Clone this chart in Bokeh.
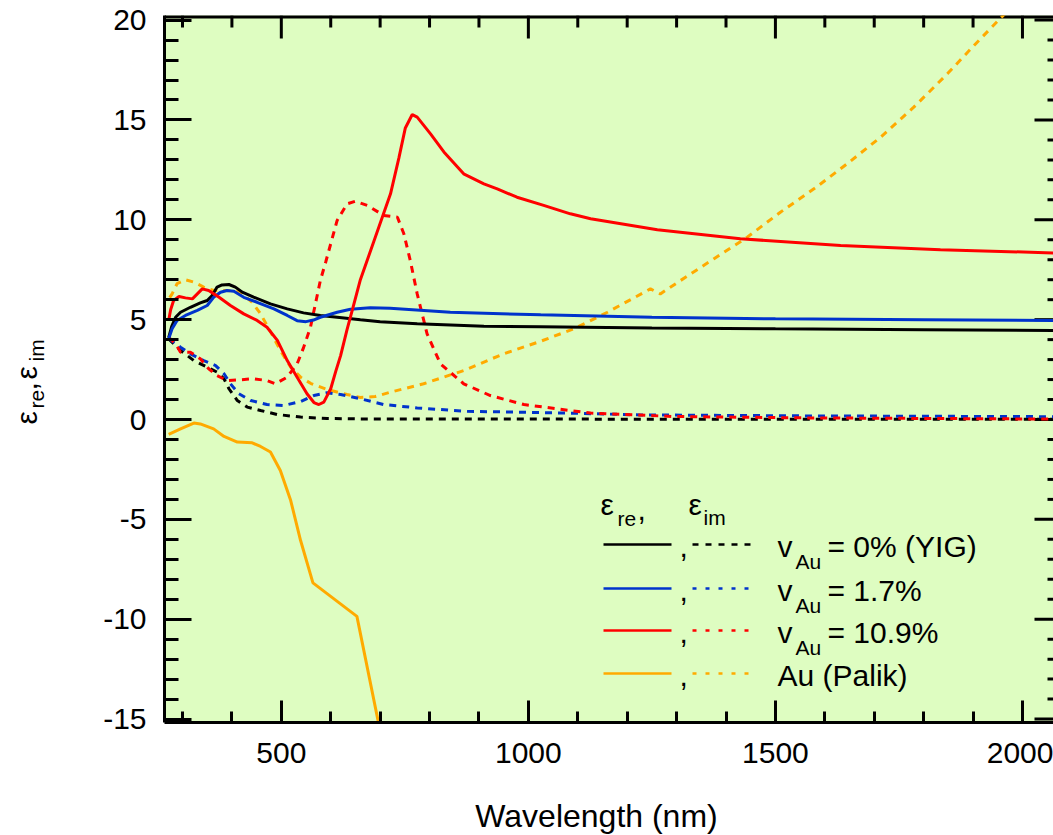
import numpy as np
from math import pi
from bokeh.plotting import figure
from bokeh.models import Range1d, FixedTicker, Label
from bokeh.layouts import row, column
from bokeh.embed import file_html
from bokeh.resources import INLINE

# ---------------- data ----------------
# v_Au = 0 % (YIG)
yig_re_wl = [272, 278, 286, 296, 316, 336, 350, 360, 370, 380, 394, 407, 421, 444, 478, 512,
             545, 579, 613, 660, 700, 775, 910, 1024, 1250, 1500, 1800, 2080]
yig_re = [4.10, 4.65, 5.12, 5.37, 5.62, 5.84, 5.96, 6.21, 6.63, 6.74, 6.76, 6.63, 6.38, 6.13, 5.79, 5.54,
          5.34, 5.21, 5.12, 4.99, 4.90, 4.79, 4.67, 4.64, 4.58, 4.54, 4.50, 4.46]
yig_im_wl = [272, 296, 323, 350, 370, 384, 394, 411, 431, 458, 492, 539, 593, 660, 1000, 2080]
yig_im = [4.04, 3.46, 2.95, 2.62, 2.37, 2.04, 1.54, 0.95, 0.62, 0.45, 0.25, 0.12, 0.05, 0.03, 0.02, 0.01]

# v_Au = 1.7 %
au17_re_wl = [272, 279, 289, 306, 330, 350, 363, 377, 390, 404, 424, 451, 485, 512, 532, 550, 565,
              579, 613, 640, 680, 720, 842, 1025, 1250, 1500, 1800, 2080]
au17_re = [4.04, 4.54, 4.96, 5.21, 5.46, 5.71, 6.12, 6.37, 6.46, 6.42, 6.12, 5.87, 5.54, 5.21, 4.95, 4.90, 4.98,
           5.12, 5.37, 5.52, 5.59, 5.57, 5.37, 5.24, 5.12, 5.04, 5.00, 4.96]
au17_im_wl = [272, 296, 316, 343, 367, 384, 397, 414, 438, 471, 505, 539, 566, 593, 620, 660, 707, 775,
              876, 977, 1085, 1227, 1564, 2080]
au17_im = [4.04, 3.62, 3.29, 2.95, 2.70, 2.29, 1.79, 1.29, 0.95, 0.75, 0.70, 0.90, 1.20, 1.34, 1.25, 1.04, 0.75, 0.58,
           0.41, 0.37, 0.32, 0.23, 0.18, 0.14]

# v_Au = 10.9 %
au109_re_wl = [272, 276, 282, 293, 306, 320, 330, 340, 353, 374, 397, 424, 451, 471, 492, 512, 532, 552, 566,
               576, 586, 600, 610, 620, 633, 645, 660, 687, 721, 738, 751, 765, 775, 802, 829, 869, 910, 937,
               977, 1031, 1085, 1126, 1261, 1429, 1632, 1834, 2080]
au109_re = [4.96, 5.50, 5.96, 6.16, 6.09, 6.04, 6.29, 6.54, 6.46, 6.12, 5.71, 5.29, 4.96, 4.62, 3.96, 2.95, 2.12,
            1.29, 0.85, 0.75, 0.87, 1.54, 2.40, 3.20, 4.50, 5.60, 7.00, 8.90, 11.30, 13.10, 14.60, 15.27, 15.14,
            14.30, 13.40, 12.30, 11.80, 11.55, 11.13, 10.72, 10.30, 10.05, 9.50, 9.05, 8.71, 8.50, 8.33]
au109_im_wl = [272, 286, 296, 316, 336, 353, 370, 390, 417, 444, 471, 488, 512, 532, 545, 559, 569, 579, 590,
               600, 613, 633, 650, 674, 707, 735, 748, 761, 775, 795, 822, 869, 923, 991, 1085, 1126, 1294,
               1564, 2080]
au109_im = [4.12, 3.79, 3.37, 3.37, 3.04, 2.54, 2.20, 1.95, 1.99, 2.04, 1.95, 1.79, 2.12, 2.79, 3.60, 4.62, 5.79,
            6.96, 7.90, 8.80, 9.97, 10.80, 10.93, 10.72, 10.22, 10.13, 9.30, 7.96, 6.29, 4.29, 2.79, 1.79, 1.20,
            0.75, 0.45, 0.32, 0.15, 0.08, 0.02]

# Au (Palik)
gold_re_wl = [272, 296, 323, 336, 363, 384, 411, 441, 458, 478, 498, 519, 539, 564, 653, 700]
gold_re = [-0.75, -0.47, -0.18, -0.22, -0.47, -0.85, -1.13, -1.17, -1.35, -1.63, -2.55, -4.06, -6.06, -8.18,
           -9.86, -15.6]
gold_im_wl = [274, 279, 289, 306, 323, 343, 363, 390, 417, 441, 458, 478, 498, 519, 539, 560, 593, 633, 660,
              690, 721, 788, 869, 950, 1025, 1092, 1160, 1247, 1267, 1308, 1375, 1443, 1510, 1578, 1645, 1713,
              1780, 1848, 1902, 1951, 2000]
gold_im = [6.10, 6.29, 6.80, 7.00, 6.88, 6.63, 6.46, 6.46, 6.38, 5.87, 5.29, 4.40, 3.46, 2.62, 2.12, 1.80, 1.50,
           1.25, 1.10, 1.15, 1.37, 1.79, 2.45, 3.29, 3.92, 4.54, 5.37, 6.54, 6.29, 6.96, 8.04, 9.13, 10.38, 11.55,
           12.80, 14.14, 15.64, 17.31, 18.73, 19.98, 21.20]

x_major_ticks = [500, 1000, 1500, 2000]
x_tick_labels = ["500", "1000", "1500", "2000"]
x_minor_ticks = list(range(300, 2101, 100))
y_major_ticks = [-15, -10, -5, 0, 5, 10, 15, 20]
y_tick_labels = ["-15", "-10", "-5", "0", "5", "10", "15", "20"]
y_minor_ticks = list(range(-15, 21))

legend_names = ["= 0% (YIG)", "= 1.7%", "= 10.9%", "Au (Palik)"]
colors = ["black", "#0033CC", "#FF0000", "#FFAA00"]
x_title = "Wavelength (nm)"

# ---------------- layout helpers (page pixel -> data) ----------------
X0_PX, X0, SX = 182.0, 300.0, 0.4941
Y0_PX, SY = 419.0, 19.97
PAGE_W, PAGE_H = 1053, 835
STRIP_W = 60          # left strip holding the y title
MAIN_H = 780          # main plot height; bottom strip holds the x title
FR_L, FR_R, FR_T, FR_B = 164, 1053, 15, 722
BASE_CORR = 0.30      # measured shift of the rendered baseline, in em


def dx(px):
    return X0 + (px - X0_PX) / SX


def dy(py):
    return (Y0_PX - py) / SY


def corr(size):
    return BASE_CORR * float(size.replace("px", ""))


FONT = "Liberation Sans"
FS = "30px"
FS_SUB = "21px"
BG = "#DEFDC1"

x0, x1 = dx(FR_L), dx(FR_R)
y0, y1 = dy(FR_B), dy(FR_T)
p = figure(width=PAGE_W - STRIP_W, height=MAIN_H, output_backend="svg", toolbar_location=None,
           x_range=Range1d(x0, x1), y_range=Range1d(y0, y1),
           min_border_left=FR_L - STRIP_W, min_border_right=0, min_border_top=FR_T,
           min_border_bottom=MAIN_H - FR_B)
p.frame_align = False
p.background_fill_color = BG
p.border_fill_color = "white"
p.outline_line_color = None
p.grid.visible = False

xt = FixedTicker(ticks=x_major_ticks, minor_ticks=x_minor_ticks)
yt = FixedTicker(ticks=y_major_ticks, minor_ticks=y_minor_ticks)


def style_axis(ax, tin, tmin):
    ax.axis_line_width = 3
    ax.axis_line_color = "black"
    ax.major_tick_line_width = 3
    ax.minor_tick_line_width = 3
    ax.major_tick_in = tin
    ax.major_tick_out = 0
    ax.minor_tick_in = tmin
    ax.minor_tick_out = 0
    ax.major_label_text_font = FONT
    ax.major_label_text_font_size = FS
    ax.major_label_text_color = "black"


bx = p.xaxis[0]
bx.ticker = xt
bx.major_label_overrides = {t: s for t, s in zip(x_major_ticks, x_tick_labels)}
style_axis(bx, 22, 11)
bx.major_label_standoff = 20

ly = p.yaxis[0]
ly.ticker = yt
ly.major_label_overrides = {t: s for t, s in zip(y_major_ticks, y_tick_labels)}
style_axis(ly, 27, 14)
ly.major_label_standoff = 18

# top edge line and inward ticks on the top and right edges (mirrors of the axes)
p.segment(x0=[x0], y0=[y1], x1=[x1], y1=[y1], line_color="black", line_width=6)
top_major, top_minor = 23 / SY, 12 / SY
tx = x_major_ticks + [t for t in x_minor_ticks if t not in x_major_ticks]
tl = [top_major] * len(x_major_ticks) + [top_minor] * (len(tx) - len(x_major_ticks))
p.segment(x0=tx, y0=[y1] * len(tx), x1=tx, y1=[y1 - l for l in tl], line_color="black", line_width=3)
right_major, right_minor = 19 / SX, 6 / SX
ty = y_major_ticks + [t for t in y_minor_ticks if t not in y_major_ticks]
rl = [right_major] * len(y_major_ticks) + [right_minor] * (len(ty) - len(y_major_ticks))
p.segment(x0=[x1] * len(ty), y0=ty, x1=[x1 - l for l in rl], y1=ty, line_color="black", line_width=3)

# ---------------- curves ----------------
DASH = "7 6"
series = [
    (gold_im_wl, gold_im, colors[3], DASH),
    (gold_re_wl, gold_re, colors[3], "solid"),
    (yig_im_wl, yig_im, colors[0], DASH),
    (au17_im_wl, au17_im, colors[1], DASH),
    (au109_im_wl, au109_im, colors[2], DASH),
    (yig_re_wl, yig_re, colors[0], "solid"),
    (au17_re_wl, au17_re, colors[1], "solid"),
    (au109_re_wl, au109_re, colors[2], "solid"),
]
for xs, ys, c, d in series:
    p.line(xs, ys, line_color=c, line_width=3, line_dash=d)


def add_label(fig, x, y, text, size=FS, align="left", angle=0.0):
    fig.add_layout(Label(x=x, y=y, text=text, text_font=FONT, text_font_size=size, angle=angle,
                         text_color="black", text_baseline="alphabetic", text_align=align))


def lab(px, py, text, size=FS, align="left"):
    add_label(p, dx(px), dy(py - corr(size)), text, size, align)


# ---------------- legend ----------------
EPS = "\u03b5"
lab(600, 513, EPS)
lab(617, 524, "re", FS_SUB)
lab(637, 518, ",")
lab(688, 513, EPS)
lab(703, 523, "im", FS_SUB)

row_line_py = [544, 588, 630, 673]
for i, (name, c) in enumerate(zip(legend_names, colors)):
    lpy = row_line_py[i]
    p.segment(x0=[dx(603)], y0=[dy(lpy)], x1=[dx(671)], y1=[dy(lpy)], line_color=c, line_width=2.5)
    p.segment(x0=[dx(692)], y0=[dy(lpy)], x1=[dx(755)], y1=[dy(lpy)], line_color=c, line_width=2.5,
              line_dash="6 7" if i == 0 else "4 9")
    base = lpy + 11
    lab(679, base, ",")
    if name.startswith("="):
        lab(777, base, "v")
        lab(795, base + 12, "Au", FS_SUB)
        lab(827, base, name)
    else:
        lab(777, base, name)


def strip(w, h, xr, yr):
    f = figure(width=w, height=h, output_backend="svg", toolbar_location=None,
               x_range=Range1d(*xr), y_range=Range1d(*yr),
               x_axis_type=None, y_axis_type=None, min_border=0)
    f.frame_align = False
    f.title.visible = False
    f.outline_line_color = None
    f.grid.visible = False
    f.background_fill_color = "white"
    f.border_fill_color = "white"
    return f


# ---------------- y title strip (left): data units = page pixels ----------------
yf = strip(STRIP_W, PAGE_H, (0, STRIP_W), (0, PAGE_H))
y_parts = [(35, 424, EPS, FS), (42, 408, "re", FS_SUB), (35, 390, ",", FS),
           (35, 379, EPS, FS), (42, 361, "im", FS_SUB)]
for px, py, t, s in y_parts:
    add_label(yf, px - corr(s), PAGE_H - py, t, s, angle=pi / 2)

# ---------------- x title strip (bottom) ----------------
BOT_H = PAGE_H - MAIN_H
xf = strip(PAGE_W - STRIP_W, BOT_H, (STRIP_W, PAGE_W), (0, BOT_H))
TITLE_FS = "32px"
add_label(xf, 596, PAGE_H - (825 - corr(TITLE_FS)), x_title, TITLE_FS, align="center")

layout = row(yf, column(p, xf))
open("out.html", "w").write(file_html(layout, INLINE))
